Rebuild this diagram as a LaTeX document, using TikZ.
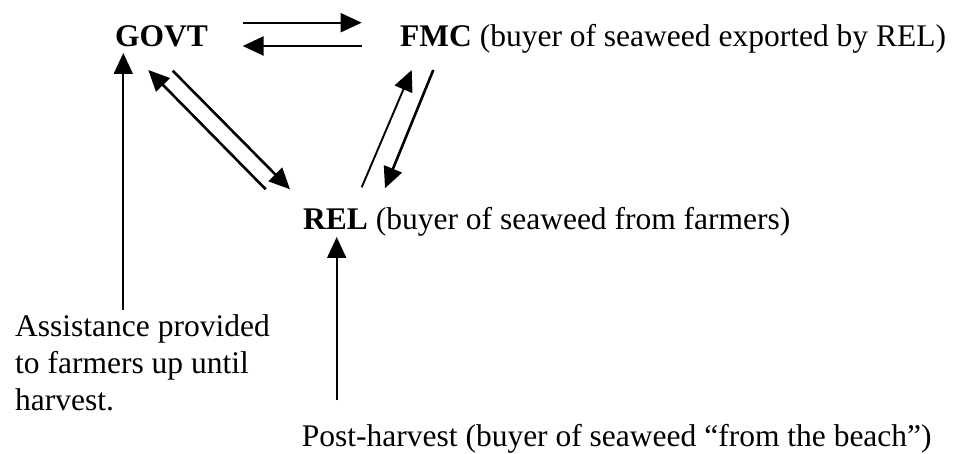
\documentclass[tikz,border=0pt]{standalone}
\usepackage{fontspec}
\setmainfont{Liberation Serif}
\usetikzlibrary{arrows.meta}
\begin{document}
\begin{tikzpicture}[x=1pt,y=-1pt,
  lbl/.style={inner sep=0pt,font=\fontsize{31.5}{36.7}\selectfont},
  thinarr/.style={line width=1.9pt,-{Triangle[length=21pt,width=19pt]}},
  thickarr/.style={line width=2.6pt,-{Triangle[length=21pt,width=19pt]}}]
\useasboundingbox (0,0) rectangle (955,454);
% nodes
\node[lbl,anchor=base west] (govt) at (115,46.7) {\textbf{GOVT}};
\node[lbl,anchor=base west] (fmc) at (400,46.7) {\textbf{FMC} (buyer of seaweed exported by REL)};
\node[lbl,anchor=base west] (rel) at (303,230) {\textbf{REL} (buyer of seaweed from farmers)};
\node[lbl,anchor=north west,align=left] (assist) at (15,314.7) {Assistance provided\\to farmers up until\\harvest.};
\node[lbl,anchor=base west] (post) at (301.7,446.7) {Post-harvest (buyer of seaweed “from the beach”)};
% connectors
\draw[thinarr] ([shift={(128,-24)}]govt.base west) -- ([shift={(-38.3,-24)}]fmc.base west);
\draw[thickarr] ([shift={(-38.3,-0.7)}]fmc.base west) -- ([shift={(127.7,-0.7)}]govt.base west);
\draw[thickarr] ([shift={(-37.3,-40.7)}]rel.base west) -- ([shift={(33.3,23.3)}]govt.base west);
\draw[thickarr] ([shift={(57.7,24)}]govt.base west) -- ([shift={(-13,-40.7)}]rel.base west);
\draw[thinarr] ([shift={(58.7,-42.7)}]rel.base west) -- ([shift={(11.7,23.3)}]fmc.base west);
\draw[thickarr] ([shift={(33.3,23.3)}]fmc.base west) -- ([shift={(82,-41.7)}]rel.base west);
\draw[thinarr] ([shift={(108.3,-4.7)}]assist.north west) -- ([shift={(8.3,6.3)}]govt.base west);
\draw[thinarr] ([shift={(35,-46.7)}]post.base west) -- ([shift={(33.7,7)}]rel.base west);
\end{tikzpicture}
\end{document}
